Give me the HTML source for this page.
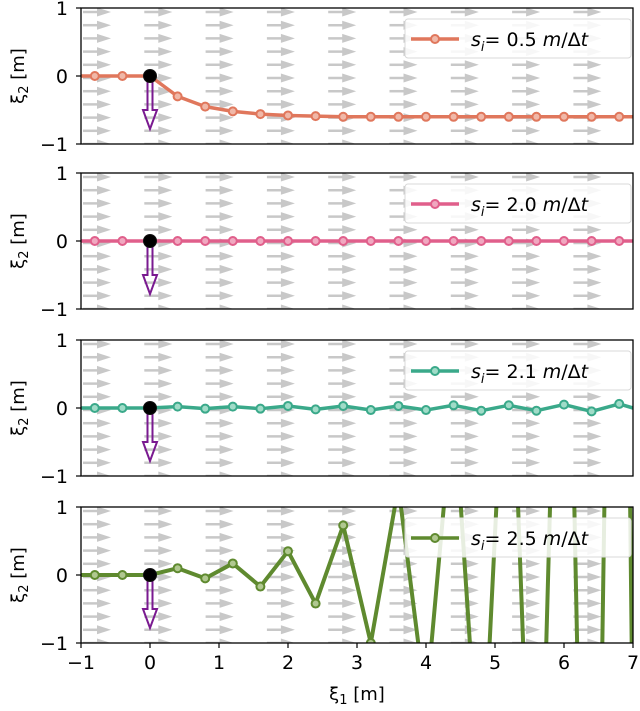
<!DOCTYPE html>
<html><head><meta charset="utf-8"><style>
html,body{margin:0;padding:0;background:#fff;overflow:hidden;width:640px;height:711px;}
svg{display:block;}
svg text{font-family:"DejaVu Sans","Liberation Sans",sans-serif;}
</style></head><body>
<svg id="chart" width="640" height="711" xmlns="http://www.w3.org/2000/svg"></svg>
<script>
const xPoints = [-1,-0.8,-0.4,0,0.4,0.8,1.2,1.6,2.0,2.4,2.8,3.2,3.6,4.0,4.4,4.8,5.2,5.6,6.0,6.4,6.8,7.2];
const speeds = ["0.5","2.0","2.1","2.5"];
const series1 = [0,0,0,0,-0.3,-0.45,-0.52,-0.56,-0.58,-0.59,-0.6,-0.6,-0.6,-0.6,-0.6,-0.6,-0.6,-0.6,-0.6,-0.6,-0.6,-0.6];
const series2 = [0,0,0,0,0,0,0,0,0,0,0,0,0,0,0,0,0,0,0,0,0,0];
const series3 = [0,0,0,0,0.02,-0.01,0.02,-0.01,0.03,-0.02,0.03,-0.03,0.03,-0.03,0.04,-0.04,0.04,-0.04,0.05,-0.05,0.06,-0.06];
const series4 = [0,0,0,0,0.1,-0.05,0.17,-0.17,0.35,-0.42,0.73,-1.0,1.3,-1.9,2.6,-3.5,4.7,-6.3,8.5,-11.5,15.5,-21];
const xTicks = [-1,0,1,2,3,4,5,6,7];
const yTicks = [-1,0,1];
const allSeries = [series1,series2,series3,series4];
const colors = ["#e0775c","#e05f8b","#3aa98a","#5f8a2f"];
const fills = ["#f0b8a8","#f0a8c0","#a0dcc8","#b0c890"];
const panelTops = [8,173,340,507];
const PH = 136, XL = 81, XR = 633;
const NS = "http://www.w3.org/2000/svg";
const svg = document.getElementById('chart');
function el(tag, attrs, parent){const e=document.createElementNS(NS,tag);for(const k in attrs)e.setAttribute(k,attrs[k]);(parent||svg).appendChild(e);return e;}
const sx = v => XL + (v+1)/8*(XR-XL);
const defs = el('defs',{});
allSeries.forEach((data,p)=>{
  const top = panelTops[p], bot = top+PH;
  const sy = v => top + (1-v)/2*PH;
  const g = el('g',{});
  
  
  const cp = el('clipPath',{id:'clip'+p},defs);
  el('rect',{x:XL,y:top,width:XR-XL,height:PH},cp);
  const field = el('g',{'clip-path':'url(#clip'+p+')'},g);
  
  
  for(let c=0;c<10;c++){for(let r=0;r<11;r++){
    const x0 = 83 + c*61.3, y0 = top + 4 + r*13.2;
    el('line',{x1:x0,y1:y0,x2:x0+16,y2:y0,stroke:'#c8c8c8','stroke-width':2.5},field);
    el('polygon',{points:`${x0+14},${y0-4.5} ${x0+28},${y0} ${x0+14},${y0+4.5}`,fill:'#c8c8c8'},field);
  }}
  const lineG = el('g',{'clip-path':'url(#clip'+p+')'},g);
  const pts = xPoints.map((x,i)=>sx(x)+','+sy(data[i])).join(' ');
  const pl = el('polyline',{points:pts,fill:'none',stroke:colors[p],'stroke-width':p==3?4:3.5,'stroke-linejoin':'round'},lineG);
  
  
  xPoints.forEach((x,i)=>{ if(i===0||x===0) return;
    const m = el('circle',{cx:sx(x),cy:sy(data[i]),r:4,fill:fills[p],stroke:colors[p],'stroke-width':2},lineG);
    
    
  });
  const ax = sx(0), ay = sy(0);
  const arr = el('g',{},g);
  
  
  el('path',{d:`M${ax-2.5},${ay} L${ax-2.5},${ay+34} L${ax-7},${ay+34} L${ax},${ay+53} L${ax+7},${ay+34} L${ax+2.5},${ay+34} L${ax+2.5},${ay}`,fill:'none',stroke:'#7a1a90','stroke-width':2},arr);
  const dot = el('circle',{cx:ax,cy:ay,r:6.5,fill:'#000',stroke:'#111','stroke-width':1},g);
  
  
  el('rect',{x:XL,y:top,width:XR-XL,height:PH,fill:'none',stroke:'#000','stroke-width':1.3},g);
  yTicks.forEach(t=>{
    el('line',{x1:XL-5,y1:sy(t),x2:XL,y2:sy(t),stroke:'#000','stroke-width':1.2},g);
    const tl = el('text',{x:XL-13,y:sy(t)+7,'text-anchor':'end','font-size':19},g);
    tl.textContent = t<0?'\u2212'+Math.abs(t):String(t);
    
    
  });
  xTicks.forEach(t=>{ el('line',{x1:sx(t),y1:bot,x2:sx(t),y2:bot+(p==3?5:0),stroke:'#000','stroke-width':1.2},g); });
  const yl = el('text',{x:0,y:0,'font-size':18,'text-anchor':'middle',transform:`translate(24,${top+PH/2}) rotate(-90)`},g);
  yl.innerHTML = 'ξ<tspan font-size="13" dy="4">2</tspan><tspan dy="-4"> [m]</tspan>';
  
  
  const lg = el('g',{},g);
  
  
  el('rect',{x:405,y:top+11,width:226,height:39,rx:3,fill:'rgba(255,255,255,0.85)',stroke:'#d8d8d8','stroke-width':1},lg);
  el('line',{x1:411,y1:top+31,x2:459,y2:top+31,stroke:colors[p],'stroke-width':3.5},lg);
  el('circle',{cx:435,cy:top+31,r:4,fill:fills[p],stroke:colors[p],'stroke-width':2},lg);
  const lt = el('text',{x:471,y:top+38,'font-size':19},lg);
  lt.innerHTML = `<tspan font-style="italic">s</tspan><tspan font-style="italic" font-size="13" dy="5">i</tspan><tspan dy="-5">= ${speeds[p]} </tspan><tspan font-style="italic">m</tspan>/Δ<tspan font-style="italic">t</tspan>`;
});
xTicks.forEach(t=>{
  const tl = el('text',{x:sx(t),y:669,'text-anchor':'middle','font-size':19});
  tl.textContent = t<0?'\u2212'+Math.abs(t):String(t);
  
  
});
const xl = el('text',{x:357,y:700,'text-anchor':'middle','font-size':18});
xl.innerHTML = 'ξ<tspan font-size="13" dy="4">1</tspan><tspan dy="-4"> [m]</tspan>';


</script>
</body></html>
